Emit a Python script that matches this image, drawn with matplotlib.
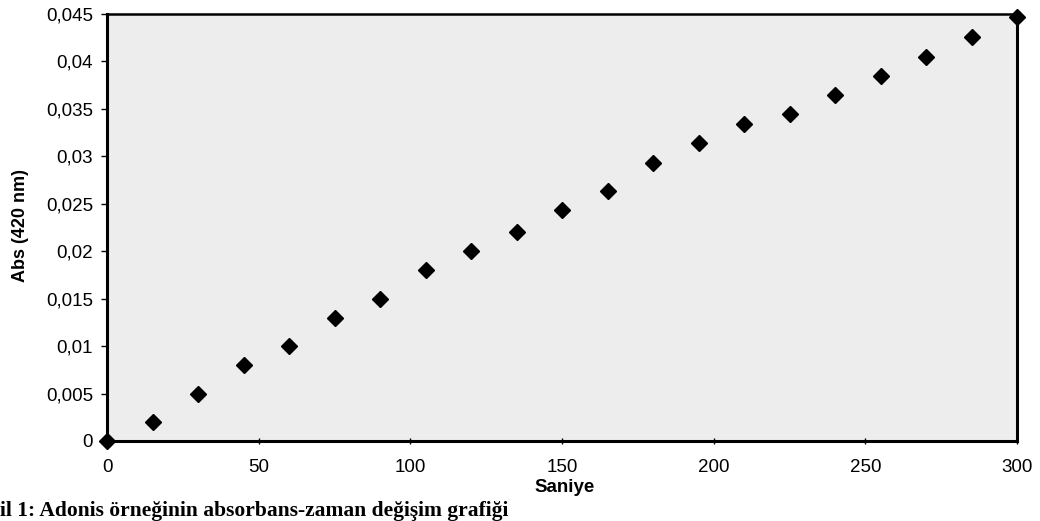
import matplotlib.pyplot as plt

saniye = [0, 15, 30, 45, 60, 75, 90, 105, 120, 135, 150,
          165, 180, 195, 210, 225, 240, 255, 270, 285, 300]
absorbans = [0.0, 0.002, 0.005, 0.008, 0.010, 0.013, 0.015, 0.018, 0.020, 0.022, 0.0243,
             0.0263, 0.0293, 0.0314, 0.0334, 0.0345, 0.0365, 0.0385, 0.0405, 0.0426, 0.0447]
y_ticks = [0, 0.005, 0.01, 0.015, 0.02, 0.025, 0.03, 0.035, 0.04, 0.045]
x_ticks = [0, 50, 100, 150, 200, 250, 300]

plt.rcParams['font.family'] = ['Liberation Sans', 'DejaVu Sans']

fig = plt.figure(figsize=(10.4, 5.21), dpi=100)
ax = fig.add_axes([0.1029, 0.1536, 0.875, 0.8196])
ax.set_facecolor('#ededed')

ax.plot(saniye, absorbans, linestyle='none', marker='D', markersize=8.5,
        color='black', clip_on=False, zorder=5)

ax.set_xlim(0, 300)
ax.set_ylim(0, 0.045)
ax.set_xticks(x_ticks)
ax.set_yticks(y_ticks)
ax.set_yticklabels([('%g' % v).replace('.', ',') for v in y_ticks])
ax.tick_params(axis='both', labelsize=13.5, length=4, width=1, color='black')
ax.tick_params(axis='x', direction='inout', pad=11)
ax.tick_params(axis='y', direction='out', pad=6)

for side in ['left', 'bottom', 'right']:
    ax.spines[side].set_linewidth(2.2)
ax.spines['top'].set_linewidth(1.8)

fig.text(0.543, 0.065, 'Saniye', ha='center', va='center', fontsize=13.5, fontweight='bold')
fig.text(0.020, 0.568, 'Abs (420 nm)', ha='center', va='center', rotation=90,
         fontsize=13, fontweight='bold')
fig.text(0.0, 0.009, 'il 1: Adonis örneğinin absorbans-zaman değişim grafiği',
         ha='left', va='baseline', fontsize=15.5, fontweight='bold',
         family=['Liberation Serif', 'DejaVu Serif'])

fig.savefig('out.png', dpi=100)
